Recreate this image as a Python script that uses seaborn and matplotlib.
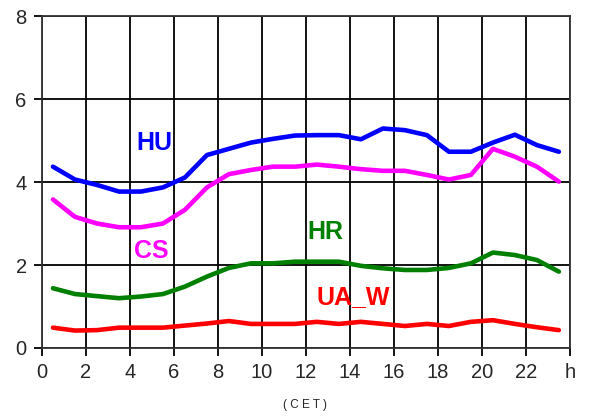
import numpy as np
import pandas as pd
import matplotlib
matplotlib.use("Agg")
import matplotlib.pyplot as plt
import seaborn as sns

# hourly values, plotted at half hours (0.5 ... 23.5 CET)
hours = [h + 0.5 for h in range(24)]
hu = [4.37, 4.06, 3.93, 3.77, 3.77, 3.87, 4.11, 4.65, 4.80, 4.95, 5.04, 5.12,
      5.13, 5.13, 5.03, 5.29, 5.25, 5.13, 4.73, 4.73, 4.95, 5.14, 4.89, 4.73]
cs = [3.58, 3.16, 3.00, 2.91, 2.91, 3.00, 3.33, 3.87, 4.19, 4.29, 4.37, 4.37,
      4.42, 4.37, 4.31, 4.27, 4.27, 4.17, 4.06, 4.17, 4.80, 4.61, 4.37, 4.01]
hr = [1.44, 1.30, 1.25, 1.20, 1.24, 1.30, 1.48, 1.72, 1.93, 2.04, 2.04, 2.08,
      2.08, 2.08, 1.98, 1.92, 1.88, 1.88, 1.93, 2.04, 2.30, 2.24, 2.12, 1.84]
ua_w = [0.49, 0.42, 0.43, 0.49, 0.49, 0.49, 0.54, 0.59, 0.65, 0.58, 0.58, 0.58,
        0.63, 0.58, 0.63, 0.58, 0.53, 0.58, 0.53, 0.63, 0.67, 0.58, 0.50, 0.43]

series_names = ["HU", "CS", "HR", "UA_W"]
colors = {"HU": "#0000ff", "CS": "#ff00ff", "HR": "#008000", "UA_W": "#ff0000"}
# label anchor (x, y) in data units
label_pos = {"HU": (5.1, 4.94), "CS": (4.95, 2.34), "HR": (12.9, 2.80), "UA_W": (14.15, 1.23)}

xticks = list(range(0, 25, 2))
xticklabels = [str(t) for t in xticks[:-1]] + ["h"]
yticks = [0, 2, 4, 6, 8]

df = pd.DataFrame({
    "hour": hours * 4,
    "value": hu + cs + hr + ua_w,
    "series": sum([[n] * 24 for n in series_names], []),
})

sns.set_style("white")
plt.rcParams["font.family"] = ["Liberation Sans", "DejaVu Sans"]

fig = plt.figure(figsize=(6.04, 4.17), dpi=100)
ax = fig.add_axes([0.0695, 0.1655, 0.874, 0.796])

sns.lineplot(data=df, x="hour", y="value", hue="series", palette=colors,
             linewidth=3.3, legend=False, ax=ax, zorder=3)

for name in series_names:
    x, y = label_pos[name]
    ax.text(x, y, name, color=colors[name], fontsize=18, fontweight="bold",
            ha="center", va="center")

ax.set_xlim(0, 24)
ax.set_ylim(0, 8)
ax.set_xticks(xticks)
ax.set_xticklabels(xticklabels)
ax.set_yticks(yticks)
ax.grid(True, color="black", linewidth=1.3)
for s in ax.spines.values():
    s.set_color("#333333")
    s.set_linewidth(1.3)
ax.tick_params(axis="both", direction="out", length=6, width=1.3, color="black",
               labelsize=14.5, pad=5, left=True, bottom=True)
ax.set_xlabel("")
ax.set_ylabel("")
fig.text(0.505, 0.028, "( C E T )", fontsize=8.5, ha="center", va="center")

fig.savefig("out.png", dpi=100)
